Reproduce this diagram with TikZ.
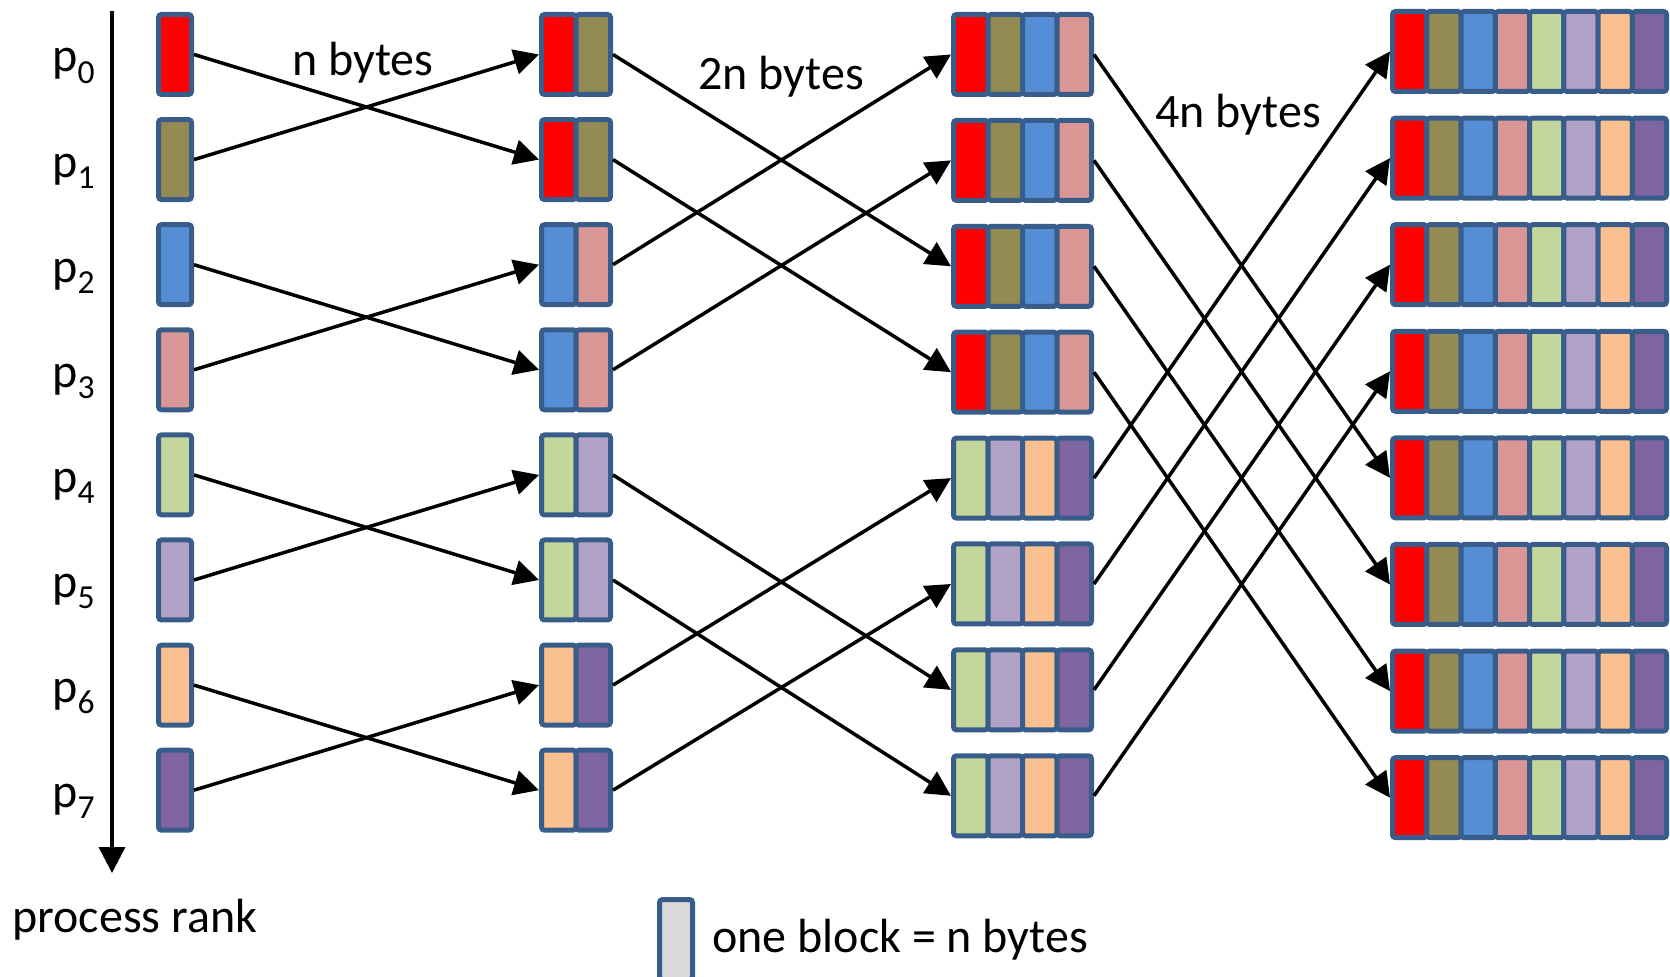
\documentclass[tikz,border=0pt]{standalone}
\usepackage{fontspec}
\setmainfont{Carlito}
\usetikzlibrary{arrows.meta}

% block fill colours
\definecolor{col0}{HTML}{FF0000}
\definecolor{col1}{HTML}{948A54}
\definecolor{col2}{HTML}{558ED5}
\definecolor{col3}{HTML}{D99694}
\definecolor{col4}{HTML}{C3D69B}
\definecolor{col5}{HTML}{B3A2C7}
\definecolor{col6}{HTML}{FAC090}
\definecolor{col7}{HTML}{8064A2}
\definecolor{blkborder}{HTML}{385D8A}
\definecolor{keygray}{HTML}{D9D9D9}

\tikzset{
  blk/.style={draw=blkborder, line width=2.5pt, rounded corners=1.5pt,
    inner sep=0pt, minimum height=40pt},
  link/.style={line width=1.75pt, -{Triangle[length=12.5pt,width=12.5pt]}},
  axis/.style={line width=1.75pt, -{Triangle[length=13pt,width=13pt]}},
  lbl/.style={font=\fontsize{24}{28}\selectfont, inner sep=0pt},
}

\newcommand{\rk}[1]{p\raisebox{-0.23em}{\fontsize{16.8}{18}\selectfont #1}}

\begin{document}
\begin{tikzpicture}[x=0.5pt,y=-0.5pt]
\useasboundingbox (0,0) rectangle (1670,977);
\clip (0,0) rectangle (1670,977);

% rank axis
\coordinate (axtop) at (112,11);
\coordinate (axbot) at (112,873);
\draw[axis] (axtop) -- (axbot);
\node[lbl, anchor=base west] (axlbl) at (12,932) {process rank};

% rank labels
\foreach \r in {0,...,7} {
  \pgfmathsetmacro\yc{54.5+105.1*\r+17.5}
  \node[lbl, anchor=base west] (rank\r) at (52,\yc) {\rk{\r}};
}

% column 0: one block per process
\foreach \r in {0,...,7} {
  \pgfmathsetmacro\yc{54.5+105.1*\r}
  \node[blk, minimum width=16.5pt, fill=col\r] (c0-\r-0) at (175,\yc) {};
}

% column 1: two blocks per process
\foreach \r in {0,...,7} {
  \pgfmathsetmacro\yc{54.5+105.1*\r}
  \foreach \k in {0,1} {
    \pgfmathtruncatemacro\ci{2*floor(\r/2)+\k}
    \pgfmathsetmacro\xc{558.75+34.5*\k}
    \node[blk, minimum width=17.25pt, fill=col\ci] (c1-\r-\k) at (\xc,\yc) {};
  }
}

% column 2: four blocks per process
\foreach \r in {0,...,7} {
  \pgfmathsetmacro\yc{54.5+105.9*\r}
  \foreach \k in {0,...,3} {
    \pgfmathtruncatemacro\ci{4*floor(\r/4)+\k}
    \pgfmathsetmacro\xc{970.75+34.5*\k}
    \node[blk, minimum width=17.25pt, fill=col\ci] (c2-\r-\k) at (\xc,\yc) {};
  }
}

% column 3: all eight blocks per process
\foreach \r in {0,...,7} {
  \pgfmathsetmacro\yc{51.5+106.6*\r}
  \foreach \k in {0,...,7} {
    \pgfmathsetmacro\xc{1409.625+34.25*\k}
    \node[blk, minimum width=17.125pt, fill=col\k] (c3-\r-\k) at (\xc,\yc) {};
  }
}

% exchanges: in stage s, rank r sends to rank r xor 2^s
\foreach \s in {0,1,2} {
  \foreach \r in {0,...,7} {
    \pgfmathtruncatemacro\stp{2^\s}
    \pgfmathtruncatemacro\bitv{mod(floor(\r/\stp),2)}
    \pgfmathtruncatemacro\dst{\r+\stp*(1-2*\bitv)}
    \pgfmathtruncatemacro\lastb{\stp-1}
    \pgfmathtruncatemacro\nxt{\s+1}
    \draw[link] (c\s-\r-\lastb.east) -- (c\nxt-\dst-0.west);
  }
}

% message sizes
\node[lbl, anchor=base] (sz1) at (363,76) {n bytes};
\node[lbl, anchor=base] (sz2) at (781,90) {2n bytes};
\node[lbl, anchor=base] (sz3) at (1238,128) {4n bytes};

% key
\node[blk, minimum width=16.5pt, fill=keygray] (key) at (676,939.5) {};
\node[lbl, anchor=base west] (keylbl) at (712,952) {one block = n bytes};
\end{tikzpicture}
\end{document}
